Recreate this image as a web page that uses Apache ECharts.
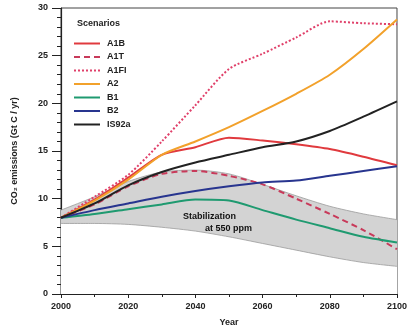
<!DOCTYPE html>
<html><head><meta charset="utf-8">
<script src="https://cdn.jsdelivr.net/npm/echarts@6/dist/echarts.min.js"></script>
<style>html,body{margin:0;padding:0;background:#fff}#c{width:410px;height:332px}</style>
</head><body><div id="c"></div>
<script>
const years = [2000,2010,2020,2030,2040,2050,2060,2070,2080,2090,2100];
const A1B   = [8,9.9,12.2,14.6,15.4,16.4,16.1,15.7,15.2,14.4,13.5];
const A1T   = [8,9.4,11.3,12.6,12.9,12.4,11.5,10.0,8.4,6.7,4.7];
const A1FI  = [8,10.2,12.5,16.0,19.8,23.6,25.2,26.9,28.6,28.4,28.3];
const A2    = [8,9.8,12.0,14.6,16.0,17.5,19.2,21.0,23.0,25.7,28.8];
const B1    = [8,8.4,8.9,9.4,9.9,9.8,8.8,7.8,6.9,6.0,5.4];
const B2    = [8,8.8,9.5,10.2,10.8,11.3,11.7,11.9,12.4,12.9,13.4];
const IS92a = [8,9.5,11.4,12.8,13.8,14.6,15.4,16.0,17.1,18.6,20.2];
const bandLow  = [7.4,7.4,7.3,7.0,6.6,6.0,5.3,4.6,3.9,3.3,2.9];
const bandHigh = [8.8,10.2,11.8,12.8,13.0,12.6,11.5,10.3,9.2,8.4,7.8];

const pair = arr => years.map((y,i)=>[y,arr[i]]);
const font = 'Liberation Sans';
function line(name, data, color, type){
  return {name, type:'line', data:pair(data), symbol:'none', smooth:0.25,
    lineStyle:{color, width:2, type:type||'solid'}, itemStyle:{color}, z:3};
}
const chart = echarts.init(document.getElementById('c'));
chart.setOption({
  animation:false,
  textStyle:{fontFamily:font},
  grid:{left:61, right:10, top:8, bottom:36, show:true, borderColor:'#444', borderWidth:1},
  title:{text:'Scenarios', left:72, top:14, textStyle:{fontSize:9, fontWeight:'bold', color:'#222', fontFamily:font}},
  legend:{orient:'vertical', left:68, top:34, itemWidth:26, itemHeight:8, itemGap:4.5,
    data:['A1B','A1T','A1FI','A2','B1','B2','IS92a'],
    itemStyle:{opacity:0},
    textStyle:{fontSize:9, fontWeight:'bold', color:'#222', padding:[0,0,0,2]}},
  xAxis:{type:'value', min:2000, max:2100, interval:20,
    name:'Year', nameLocation:'middle', nameGap:24, nameTextStyle:{fontSize:9, fontWeight:'bold', color:'#222'},
    axisLine:{lineStyle:{color:'#222', width:1.2}},
    axisTick:{length:4, lineStyle:{color:'#222'}},
    minorTick:{show:true, splitNumber:2, length:3, lineStyle:{color:'#222'}},
    splitLine:{show:false},
    axisLabel:{fontSize:9, fontWeight:'bold', color:'#222', margin:8, formatter:v=>String(v)}},
  yAxis:{type:'value', min:0, max:30, interval:5,
    name:'CO\u2082 emissions (Gt C / yr)', nameLocation:'middle', nameGap:42,
    nameTextStyle:{fontSize:9, fontWeight:'bold', color:'#222'},
    axisLine:{lineStyle:{color:'#222', width:1.2}},
    axisTick:{length:9, lineStyle:{color:'#222'}},
    minorTick:{show:true, splitNumber:5, length:4, lineStyle:{color:'#222'}},
    splitLine:{show:false},
    axisLabel:{fontSize:9, fontWeight:'bold', color:'#222', margin:13}},
  series:[
    {name:'bandHigh', type:'line', data:pair(bandHigh), symbol:'none', smooth:0.25,
      lineStyle:{width:0.8, color:'#9a9a9a'}, areaStyle:{color:'#d3d3d3', opacity:1, origin:'start'}, z:1, silent:true},
    {name:'bandLow', type:'line', data:pair(bandLow), symbol:'none', smooth:0.25,
      lineStyle:{width:0.8, color:'#9a9a9a'}, areaStyle:{color:'#ffffff', opacity:1, origin:'start'}, z:1, silent:true},
    line('A1B', A1B, '#e03a3e'),
    line('A1T', A1T, '#c83a5a', [6,4]),
    line('A1FI', A1FI, '#e0406a', [2,2]),
    line('A2', A2, '#f2a12b'),
    line('B1', B1, '#1f9a70'),
    line('B2', B2, '#28358f'),
    line('IS92a', IS92a, '#222222')
  ],
  graphic:[
    {type:'text', left:183, top:212, style:{text:'Stabilization', fontSize:9, fontWeight:'bold', fill:'#111', fontFamily:font}, z:10},
    {type:'text', left:205, top:224, style:{text:'at 550 ppm', fontSize:9, fontWeight:'bold', fill:'#111', fontFamily:font}, z:10}
  ]
});
</script></body></html>
